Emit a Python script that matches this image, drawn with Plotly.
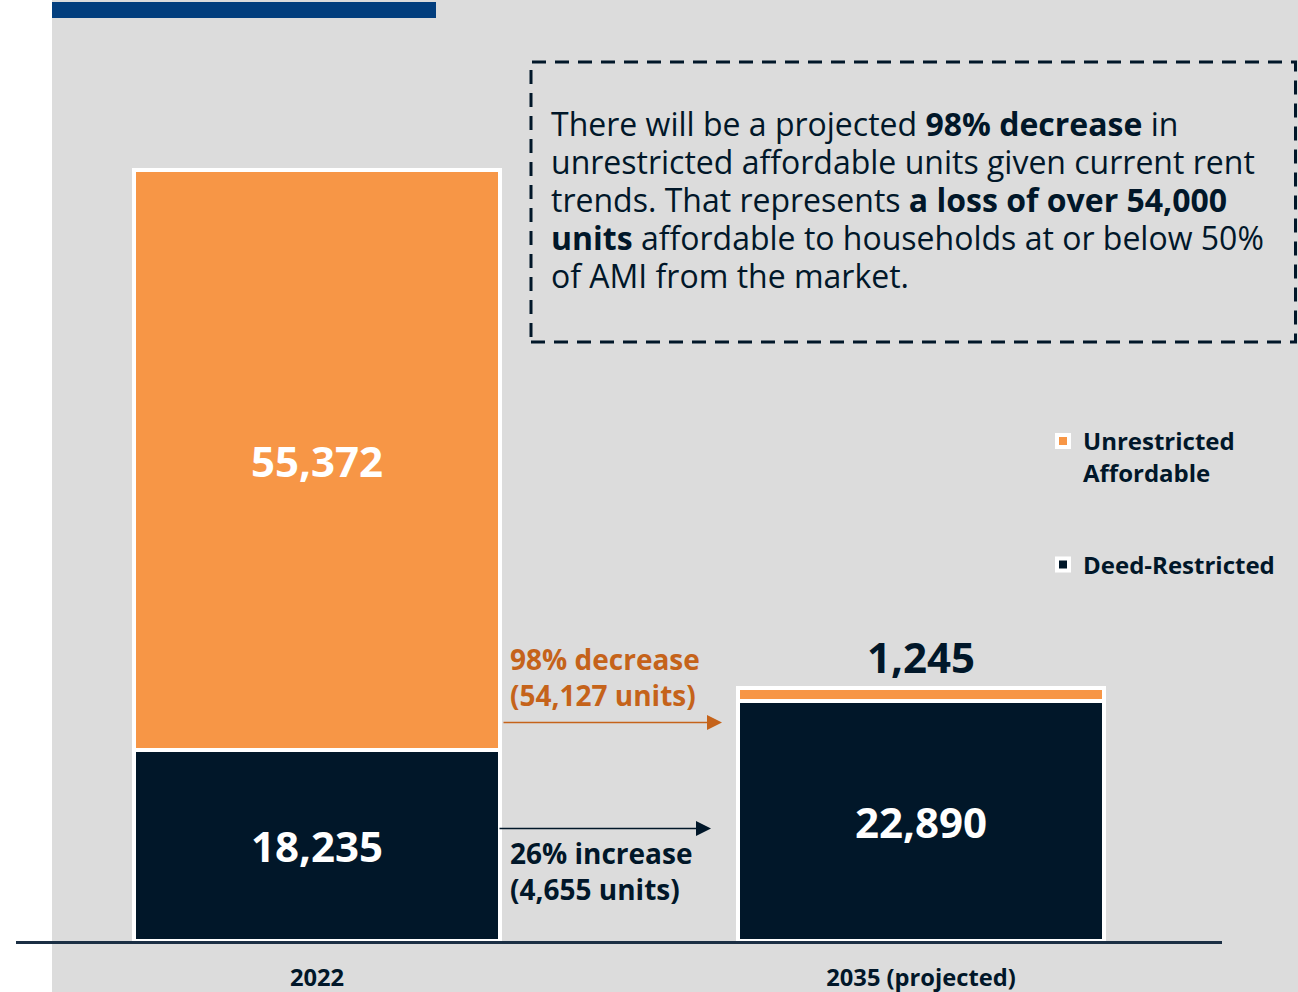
import plotly.graph_objects as go

# --- data -------------------------------------------------------------
years = ["2022", "2035 (projected)"]
deed_restricted = [18235, 22890]
unrestricted = [55372, 1245]

callout_lines = [
    "There will be a projected <b>98% decrease</b> in",
    "unrestricted affordable units given current rent",
    "trends. That represents <b>a loss of over 54,000</b>",
    "<b>units</b> affordable to households at or below 50%",
    "of AMI from the market.",
]

# --- styling ----------------------------------------------------------
NAVY = "#011729"
ORANGE = "#F79646"
ARROW_ORANGE = "#C5631A"
BG = "#DCDCDC"
TOP_BAR = "#023E7D"
AXIS = "#1B2F44"
FONT = "Open Sans"

W, H = 1298, 992
ML, MR, MT, MB = 16, 76, 0, 51
PW = W - ML - MR
PH = H - MT - MB
PX_PER_UNIT = 0.01048


def px_x(p):
    return (p - ML) / PW


def px_y(p):
    return 1 - (p - MT) / PH


fig = go.Figure()

fig.add_bar(
    x=years, y=deed_restricted, name="Deed-Restricted",
    marker=dict(color=NAVY, line=dict(color="white", width=4)),
    width=0.6056, texttemplate="%{y:,}", textposition="inside",
    insidetextanchor="middle", textangle=0,
    insidetextfont=dict(family=FONT, size=42, color="white", weight=700),
    legendgroup="deed", legendrank=2, hoverinfo="skip",
)
fig.add_bar(
    x=years, y=unrestricted, name="Unrestricted<br>Affordable",
    marker=dict(color=ORANGE, line=dict(color="white", width=4)),
    width=0.6056, texttemplate="%{y:,}", textposition=["inside", "outside"],
    insidetextanchor="middle", textangle=0, cliponaxis=False,
    insidetextfont=dict(family=FONT, size=42, color="white", weight=700),
    outsidetextfont=dict(family=FONT, size=42, color=NAVY, weight=700),
    legendgroup="unres", legendrank=1, hoverinfo="skip",
)

# change between the two years
drop = unrestricted[0] - unrestricted[1]
drop_pct = round(100 * drop / unrestricted[0])
gain = deed_restricted[1] - deed_restricted[0]
gain_pct = round(100 * gain / deed_restricted[0])

annotations = []
for i, line in enumerate(callout_lines):
    annotations.append(dict(
        xref="paper", yref="paper", x=px_x(549), y=px_y(123.5 + 38 * i),
        xanchor="left", yanchor="middle", showarrow=False, text=line,
        font=dict(family=FONT, size=32, color=NAVY),
    ))

annotations += [
    dict(xref="paper", yref="paper", x=px_x(508), y=px_y(677),
         xanchor="left", yanchor="middle", align="left", showarrow=False,
         text=f"<b>{drop_pct}% decrease<br>({drop:,} units)</b>",
         font=dict(family=FONT, size=28, color=ARROW_ORANGE)),
    dict(xref="paper", yref="paper", x=px_x(508), y=px_y(871),
         xanchor="left", yanchor="middle", align="left", showarrow=False,
         text=f"<b>{gain_pct}% increase<br>({gain:,} units)</b>",
         font=dict(family=FONT, size=28, color=NAVY)),
    # arrows between the bars
    dict(xref="paper", yref="paper", x=px_x(722), y=px_y(722.5),
         ax=-220, ay=0, axref="pixel", ayref="pixel", text="",
         showarrow=True, arrowhead=2, arrowsize=2, arrowwidth=1.5,
         arrowcolor=ARROW_ORANGE, standoff=0),
    dict(xref="paper", yref="paper", x=px_x(711), y=px_y(828.5),
         ax=-213, ay=0, axref="pixel", ayref="pixel", text="",
         showarrow=True, arrowhead=2, arrowsize=2, arrowwidth=1.5,
         arrowcolor=NAVY, standoff=0),
]

shapes = [
    # grey panel
    dict(type="rect", xref="paper", yref="paper", layer="below",
         x0=px_x(52), x1=px_x(W + 5), y0=px_y(H + 5), y1=px_y(-5),
         fillcolor=BG, line=dict(width=0)),
    # accent bar at the top
    dict(type="rect", xref="paper", yref="paper", layer="above",
         x0=px_x(52), x1=px_x(436), y0=px_y(18), y1=px_y(2),
         fillcolor=TOP_BAR, line=dict(width=0)),
    # dashed callout frame
    dict(type="rect", xref="paper", yref="paper", layer="above",
         x0=px_x(531), x1=px_x(1295.5), y0=px_y(342), y1=px_y(62),
         line=dict(color=NAVY, width=3, dash="14px,9px")),
]

fig.update_layout(
    width=W, height=H,
    margin=dict(l=ML, r=MR, t=MT, b=MB, pad=0),
    paper_bgcolor="white", plot_bgcolor="rgba(0,0,0,0)",
    barmode="stack", bargap=0,
    font=dict(family=FONT, color=NAVY),
    showlegend=True,
    legend=dict(
        x=px_x(1043), y=px_y(419), xanchor="left", yanchor="top",
        bgcolor="rgba(0,0,0,0)", traceorder="grouped",
        tracegroupgap=58, valign="top", itemwidth=30,
        font=dict(family=FONT, size=24, color=NAVY, weight=700),
    ),
    annotations=annotations,
    shapes=shapes,
)
fig.update_xaxes(
    type="category", range=[-0.4984, 1.4984], showgrid=False, zeroline=False,
    showline=True, linecolor=AXIS, linewidth=3, ticks="",
    tickfont=dict(family=FONT, size=23.7, color=NAVY, weight=700),
    ticklabelstandoff=14, fixedrange=True,
)
fig.update_yaxes(visible=False, range=[0, PH / PX_PER_UNIT], fixedrange=True)

fig.write_html("out.html", config={"displayModeBar": False})
